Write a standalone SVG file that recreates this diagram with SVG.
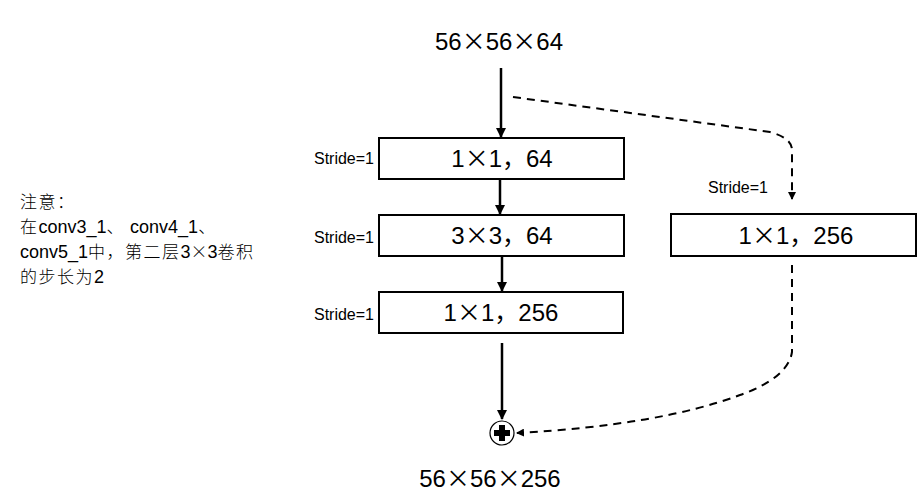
<svg xmlns="http://www.w3.org/2000/svg" width="923" height="499" viewBox="0 0 923 499">
<style>
.box{fill:#fff;stroke:#000;stroke-width:2}
.bt{font-family:"Liberation Sans","Noto Sans CJK SC",sans-serif;font-size:24px;fill:#000;text-anchor:middle}
.dim{font-family:"Liberation Sans","Noto Sans CJK SC",sans-serif;font-size:24px;fill:#000;text-anchor:middle}
.cjk{font-family:"Noto Sans CJK SC",sans-serif}
.nc{font-family:"Noto Sans CJK SC",sans-serif;font-size:17px;font-weight:300;letter-spacing:1.5px}
.nx{font-family:"Noto Sans CJK SC",sans-serif;font-size:17px;font-weight:300}
.st{font-family:"Liberation Sans",sans-serif;font-size:16px;fill:#000;text-anchor:end}
.note{font-family:"Liberation Sans","Noto Sans CJK SC",sans-serif;font-size:18px;fill:#000}
.solid{fill:none;stroke:#000;stroke-width:2.5}
.dash{fill:none;stroke:#000;stroke-width:2;stroke-dasharray:8,6}
</style>
<defs>
<marker id="ah" markerWidth="8" markerHeight="8" refX="7" refY="4" orient="auto" markerUnits="userSpaceOnUse">
<path d="M0,0 L8,4 L0,8 Z" fill="#000"/>
</marker>
<marker id="ahs" markerWidth="10" markerHeight="10" refX="9" refY="5" orient="auto" markerUnits="userSpaceOnUse">
<path d="M0,0 L10,5 L0,10 Z" fill="#000"/>
</marker>
</defs>
<text class="dim" x="499" y="50">56<tspan class="cjk">×</tspan>56<tspan class="cjk">×</tspan>64</text>
<text class="dim" x="490" y="487">56<tspan class="cjk">×</tspan>56<tspan class="cjk">×</tspan>256</text>
<g id="note">
<text class="note" x="20" y="208"><tspan class="nc">注意：</tspan></text>
<text class="note" x="20" y="233"><tspan class="nc">在</tspan>conv3_1<tspan class="nc">、</tspan> conv4_1<tspan class="nc">、</tspan></text>
<text class="note" x="20" y="258">conv5_1<tspan class="nc">中，第二层</tspan>3<tspan class="nx">×</tspan>3<tspan class="nc">卷积</tspan></text>
<text class="note" x="20" y="283"><tspan class="nc">的步长为</tspan>2</text>
</g>
<g id="conv1">
<rect class="box" x="379" y="138" width="245" height="41"/>
<text class="bt" x="502" y="167">1<tspan class="cjk">×</tspan>1<tspan class="cjk">，</tspan>64</text>
<text class="st" x="374" y="164">Stride=1</text>
</g>
<g id="conv2">
<rect class="box" x="379" y="215" width="245" height="41"/>
<text class="bt" x="502" y="244">3<tspan class="cjk">×</tspan>3<tspan class="cjk">，</tspan>64</text>
<text class="st" x="374" y="243">Stride=1</text>
</g>
<g id="conv3">
<rect class="box" x="379" y="292" width="244" height="41"/>
<text class="bt" x="501" y="321">1<tspan class="cjk">×</tspan>1<tspan class="cjk">，</tspan>256</text>
<text class="st" x="374" y="320">Stride=1</text>
</g>
<g id="shortcut">
<rect class="box" x="671" y="214" width="245" height="42"/>
<text class="bt" x="796" y="244">1<tspan class="cjk">×</tspan>1<tspan class="cjk">，</tspan>256</text>
<text class="st" x="768" y="193">Stride=1</text>
</g>
<g id="add">
<circle cx="502" cy="433" r="12" fill="#fff" stroke="#000" stroke-width="1.2"/>
<path d="M499,425 h6 v5 h5 v6 h-5 v5 h-6 v-5 h-5 v-6 h5 Z" fill="#000"/>
</g>
<g id="connectors">
<line class="solid" x1="501" y1="68" x2="501" y2="137" marker-end="url(#ahs)"/>
<line class="solid" x1="500" y1="180" x2="500" y2="214" marker-end="url(#ahs)"/>
<line class="solid" x1="502" y1="257" x2="502" y2="291" marker-end="url(#ahs)"/>
<line class="solid" x1="502" y1="343" x2="502" y2="419" marker-end="url(#ahs)"/>
<path class="dash" d="M513,97 L770,132 Q792,138 792,150 L792,199" marker-end="url(#ah)"/>
<path class="dash" d="M792,265 L792,352 Q788,378 740,395 Q660,425 517,433" marker-end="url(#ah)"/>
</g>
</svg>
